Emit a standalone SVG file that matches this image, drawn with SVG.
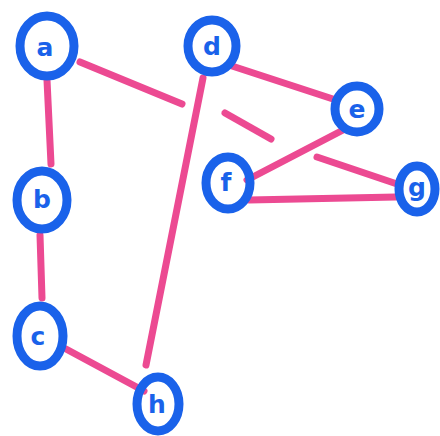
<svg xmlns="http://www.w3.org/2000/svg" width="440" height="436" viewBox="0 0 440 436">
<style>
.e{stroke:#ec4a92;stroke-width:7;stroke-linecap:round;fill:none}
.n ellipse{fill:none;stroke:#1a62ea;stroke-width:9}
.n text{fill:#1a62ea;font-family:"DejaVu Sans",sans-serif;font-weight:bold;font-size:25px;text-anchor:middle;dominant-baseline:central}
</style>
<rect width="440" height="436" fill="#fff"/>
<g id="edges">
<line class="e" x1="47" y1="80" x2="51" y2="164"/>
<line class="e" x1="40" y1="235" x2="42" y2="298"/>
<line class="e" x1="66" y1="349" x2="144" y2="391"/>
<line class="e" x1="146" y1="365" x2="203" y2="78"/>
<line class="e" x1="80" y1="62" x2="182" y2="104"/>
<line class="e" x1="225" y1="113" x2="271" y2="139"/>
<line class="e" x1="317" y1="157" x2="400" y2="185"/>
<line class="e" x1="232" y1="66" x2="336" y2="100"/>
<line class="e" x1="345" y1="129" x2="247" y2="180"/>
<line class="e" x1="249" y1="200" x2="396" y2="197"/>
</g>
<g id="a" class="n"><ellipse cx="47" cy="46" rx="27" ry="30"/><text x="45" y="47">a</text></g>
<g id="d" class="n"><ellipse cx="212" cy="46" rx="24" ry="26"/><text x="212" y="46">d</text></g>
<g id="e" class="n"><ellipse cx="357" cy="109" rx="22" ry="23"/><text x="357" y="109">e</text></g>
<g id="f" class="n"><ellipse cx="228" cy="183" rx="22" ry="26"/><text x="226" y="182">f</text></g>
<g id="g" class="n"><ellipse cx="417" cy="189" rx="18" ry="23"/><text x="417" y="187">g</text></g>
<g id="b" class="n"><ellipse cx="42" cy="200" rx="25" ry="29"/><text x="42" y="199">b</text></g>
<g id="c" class="n"><ellipse cx="40" cy="336" rx="23" ry="30"/><text x="38" y="336">c</text></g>
<g id="h" class="n"><ellipse cx="158" cy="404" rx="21" ry="27"/><text x="157" y="404">h</text></g>
</svg>
